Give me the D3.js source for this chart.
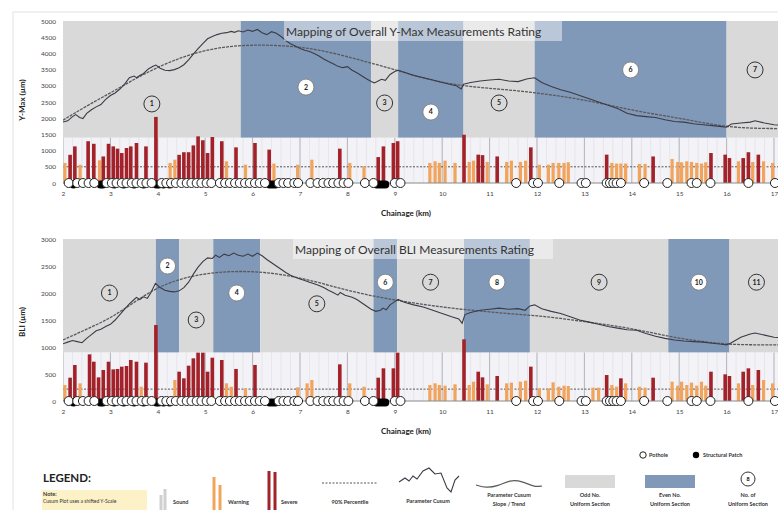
<!DOCTYPE html>
<html>
<head>
<meta charset="utf-8">
<script src="https://cdn.jsdelivr.net/npm/d3@7"></script>
<style>
  body { margin: 0; background: #fff; }
  text { font-family: Lato, "Open Sans", sans-serif; }
</style>
</head>
<body>
<svg id="chart" width="778" height="510"></svg>
<script>
// chainage ticks (km)
const kmTicks = [2, 3, 4, 5, 6, 7, 8, 9, 10, 11, 12, 13, 14, 15, 16, 17];

// uniform section boundaries (km)
const ymaxBreaks = [2, 5.75, 8.5, 9.07, 10.45, 11.95, 16.0, 17.2];
const bliBreaks = [2, 3.96, 4.45, 5.17, 6.16, 8.55, 9.05, 10.46, 11.85, 14.77, 16.06, 17.2];
// level (µm) at which each section number sits
const ymaxLabelLevel = [2440, 2960, 2470, 2190, 2470, 3490, 3490];
const bliLabelLevel = [2000, 2500, 1500, 2000, 1800, 2200, 2200, 2200, 2200, 2200, 2200];

// parameter cusum [km, µm]
const ymaxCusum = [[2.0,1880],[2.1,1920],[2.2,2050],[2.27,2110],[2.35,2020],[2.42,1990],[2.5,2150],[2.6,2260],[2.7,2350],[2.8,2420],[2.9,2580],[3.0,2700],[3.1,2780],[3.2,2900],[3.3,3050],[3.4,3250],[3.5,3300],[3.55,3250],[3.62,3320],[3.7,3380],[3.8,3520],[3.9,3600],[3.96,3640],[4.05,3540],[4.15,3480],[4.25,3470],[4.35,3500],[4.45,3560],[4.55,3650],[4.65,3800],[4.75,3980],[4.85,4150],[4.95,4300],[5.05,4450],[5.15,4520],[5.25,4580],[5.35,4620],[5.45,4640],[5.55,4680],[5.62,4650],[5.7,4700],[5.8,4660],[5.9,4720],[6.0,4680],[6.1,4740],[6.2,4640],[6.3,4580],[6.4,4670],[6.5,4620],[6.6,4520],[6.7,4400],[6.8,4300],[6.9,4230],[7.0,4150],[7.1,4100],[7.2,4060],[7.3,4000],[7.4,3920],[7.5,3830],[7.6,3750],[7.7,3680],[7.8,3600],[7.9,3560],[8.0,3590],[8.1,3480],[8.2,3400],[8.3,3310],[8.4,3220],[8.5,3130],[8.57,3090],[8.65,3150],[8.72,3200],[8.8,3170],[8.9,3350],[9.0,3440],[9.07,3480],[9.2,3420],[9.4,3320],[9.6,3250],[9.8,3180],[10.0,3100],[10.2,3030],[10.3,3000],[10.4,2900],[10.45,3050],[10.6,3100],[10.8,3150],[11.0,3180],[11.2,3200],[11.4,3150],[11.6,3130],[11.8,3220],[11.95,3250],[12.1,3100],[12.3,2980],[12.5,2880],[12.7,2800],[12.9,2700],[13.1,2600],[13.3,2500],[13.5,2400],[13.7,2300],[13.9,2150],[14.1,2080],[14.3,2050],[14.5,2020],[14.7,1950],[14.9,1900],[15.1,1880],[15.3,1830],[15.5,1800],[15.7,1770],[15.9,1740],[16.0,1720],[16.1,1820],[16.3,1850],[16.5,1880],[16.6,1920],[16.8,1850],[17.0,1800],[17.2,1780]];
const ymaxTrend = [[2,1940],[2.5,2380],[3,2780],[3.5,3200],[4,3580],[4.5,3880],[5,4100],[5.5,4220],[6,4260],[6.5,4250],[7,4200],[7.5,4080],[8,3900],[8.5,3700],[9,3500],[9.5,3280],[10,3100],[10.5,2990],[11,2920],[11.5,2860],[12,2780],[12.5,2680],[13,2560],[13.5,2410],[14,2250],[14.5,2120],[15,2000],[15.5,1860],[16,1740],[16.5,1690],[17,1680],[17.2,1680]];

const bliCusum = [[2.0,1060],[2.1,1090],[2.2,1120],[2.3,1100],[2.4,1080],[2.5,1160],[2.6,1230],[2.7,1300],[2.8,1330],[2.9,1380],[3.0,1420],[3.1,1500],[3.2,1600],[3.3,1700],[3.4,1800],[3.5,1880],[3.55,1920],[3.62,1880],[3.7,1930],[3.78,1900],[3.85,2000],[3.95,2180],[4.05,2100],[4.15,2050],[4.25,2030],[4.35,2020],[4.45,2040],[4.55,2100],[4.65,2200],[4.75,2350],[4.85,2480],[4.95,2580],[5.05,2650],[5.15,2640],[5.22,2700],[5.3,2660],[5.4,2720],[5.5,2690],[5.6,2740],[5.7,2700],[5.8,2680],[5.9,2720],[6.0,2680],[6.1,2740],[6.2,2690],[6.3,2620],[6.4,2560],[6.5,2500],[6.6,2440],[6.7,2380],[6.8,2330],[6.9,2290],[7.0,2260],[7.1,2230],[7.2,2200],[7.3,2170],[7.4,2140],[7.5,2100],[7.6,2050],[7.7,2010],[7.8,1960],[7.85,2010],[7.95,1960],[8.1,1920],[8.2,1880],[8.3,1820],[8.4,1760],[8.5,1700],[8.6,1660],[8.7,1680],[8.75,1720],[8.82,1690],[8.9,1780],[9.0,1840],[9.07,1880],[9.2,1830],[9.4,1780],[9.6,1740],[9.8,1680],[10.0,1620],[10.2,1560],[10.35,1520],[10.42,1440],[10.48,1600],[10.6,1640],[10.8,1680],[11.0,1700],[11.2,1720],[11.4,1700],[11.6,1710],[11.75,1680],[11.85,1760],[11.95,1780],[12.1,1710],[12.3,1660],[12.5,1620],[12.7,1560],[12.9,1500],[13.1,1460],[13.3,1420],[13.5,1380],[13.7,1350],[13.9,1320],[14.1,1310],[14.3,1250],[14.5,1200],[14.7,1160],[14.9,1130],[15.1,1110],[15.3,1100],[15.5,1090],[15.7,1070],[15.9,1050],[16.0,1040],[16.1,1080],[16.3,1180],[16.5,1240],[16.6,1260],[16.8,1220],[17.0,1180],[17.2,1170]];
const bliTrend = [[2,1130],[2.5,1330],[3,1530],[3.5,1830],[4,2110],[4.5,2270],[5,2360],[5.5,2400],[6,2400],[6.5,2360],[7,2280],[7.5,2170],[8,2050],[8.5,1950],[9,1870],[9.5,1800],[10,1740],[10.5,1690],[11,1650],[11.5,1610],[12,1580],[12.5,1530],[13,1470],[13.5,1410],[14,1340],[14.5,1250],[15,1160],[15.5,1100],[16,1050],[16.5,1040],[17,1040],[17.2,1040]];

// measurement bars [km, µm]
const ymaxSevere = [[2.15,870],[2.25,1130],[2.53,1290],[2.65,1210],[2.85,820],[2.96,1210],[3.06,1130],[3.15,1060],[3.24,925],[3.34,1080],[3.43,1130],[3.55,1235],[3.75,1130],[3.96,2040],[4.45,870],[4.55,950],[4.65,950],[4.75,1160],[4.85,1440],[4.95,1320],[5.05,925],[5.15,1420],[5.35,1290],[5.65,1100],[6.05,1235],[6.35,1030],[7.84,1060],[8.65,800],[8.76,1130],[8.97,1235],[9.06,1290],[10.46,1490],[10.76,875],[10.85,860],[11.16,820],[11.87,1100],[13.47,875],[14.45,820],[15.67,925],[15.97,875],[16.06,770],[16.35,770],[16.46,950],[16.67,875]];
const ymaxWarning = [[2.04,620],[2.36,565],[2.77,700],[4.26,620],[4.36,720],[5.45,670],[5.85,565],[6.45,600],[6.95,565],[7.25,720],[8.05,620],[8.35,515],[9.74,620],[9.85,670],[9.94,620],[10.06,690],[10.27,620],[10.57,650],[10.66,690],[10.95,650],[11.36,650],[11.46,690],[11.65,650],[11.76,690],[12.05,565],[12.24,565],[12.34,620],[12.46,620],[12.57,620],[12.66,640],[13.58,620],[13.68,600],[13.77,600],[13.87,600],[14.16,590],[14.28,590],[14.85,740],[14.97,650],[15.05,640],[15.16,670],[15.26,650],[15.37,620],[15.47,600],[15.56,640],[16.25,670],[16.55,650],[16.78,670],[16.97,620]];
const bliSevere = [[2.15,432],[2.25,667],[2.56,864],[2.65,728],[2.75,438],[2.85,574],[2.96,728],[3.06,586],[3.15,593],[3.24,636],[3.34,648],[3.43,759],[3.55,728],[3.75,710],[3.96,1407],[4.45,543],[4.55,420],[4.65,654],[4.75,790],[4.85,895],[4.95,895],[5.05,543],[5.15,802],[5.35,759],[5.65,593],[6.05,667],[7.84,679],[8.65,432],[8.76,605],[8.97,605],[9.06,895],[10.46,1142],[10.76,543],[10.85,438],[11.16,463],[11.87,636],[13.47,481],[13.77,420],[14.45,432],[15.67,543],[15.97,494],[16.06,463],[16.35,543],[16.46,605],[16.67,574]];
const bliWarning = [[2.04,296],[2.36,327],[3.65,265],[4.36,389],[5.45,327],[5.55,265],[5.85,235],[6.95,253],[7.15,327],[7.25,389],[8.05,327],[8.35,265],[9.74,296],[9.85,327],[9.94,296],[10.06,284],[10.27,309],[10.57,296],[10.66,358],[10.95,309],[11.36,327],[11.46,340],[11.65,358],[11.76,377],[12.05,235],[12.24,235],[12.34,346],[12.46,265],[12.57,284],[12.66,278],[13.18,247],[13.3,247],[13.58,296],[13.68,265],[13.87,327],[14.16,265],[14.28,247],[14.85,358],[14.97,284],[15.05,358],[15.16,296],[15.26,340],[15.37,284],[15.47,358],[15.56,284],[16.25,327],[16.55,296],[16.78,389],[16.97,327]];

// 90th percentile (µm)
const ymaxP90 = 500;
const bliP90 = 220;

// defects along the road (km)
const potholes = [2.12,2.3,2.42,2.54,2.66,2.92,3.03,3.13,3.24,3.34,3.45,3.55,3.66,3.76,3.87,4.08,4.18,4.28,4.38,4.5,4.61,4.71,4.82,4.92,5.03,5.13,5.31,5.42,5.52,5.63,5.73,5.84,5.94,6.05,6.15,6.26,6.55,6.65,6.75,6.88,6.96,7.22,7.37,7.49,7.6,7.7,7.81,7.92,8.02,8.37,8.55,9.0,9.12,11.56,11.92,12.02,12.47,12.94,13.03,13.47,13.54,13.61,13.68,13.77,14.26,14.75,15.26,15.37,15.66,16.46,17.02];
const patches = [2.22,2.79,2.84,3.08,3.28,3.5,3.7,3.97,4.02,4.12,4.25,6.36,6.42,6.48,8.62,8.68,8.74,8.8];

const svg = d3.select("#chart");
const W = 778;
const x = d3.scaleLinear().domain([2, 17]).range([63, 774]);

const C = {
    odd: "#d9d9d9", even: "#8199b8", severe: "#a3222a", warning: "#f2a45c",
    sound: "#d0d0d0", line: "#3b3b47", trend: "#5a5a5a"
};

// outer frame
svg.append("path").attr("d", `M13,510 V12 H${W}`)
    .attr("fill", "none").attr("stroke", "#e2e2e2");

function drawPanel(p) {
    const y = d3.scaleLinear().domain([0, p.yMax]).range([p.y0, p.y1]);
    const g = svg.append("g");
    const clipId = "clip" + p.id;
    g.append("clipPath").attr("id", clipId).append("rect")
        .attr("x", x(2)).attr("y", p.y1 - 2).attr("width", W - x(2)).attr("height", p.y0 - p.y1 + 12);
    const plot = g.append("g").attr("clip-path", `url(#${clipId})`);

    // bar area background and grid
    plot.append("rect").attr("x", x(2)).attr("y", y(p.band))
        .attr("width", W - x(2)).attr("height", y(0) - y(p.band)).attr("fill", "#f3f3f7");
    plot.selectAll(".minor").data(d3.range(2, 17.3, 0.2)).enter().append("line")
        .attr("x1", d => x(d)).attr("x2", d => x(d))
        .attr("y1", y(p.band)).attr("y2", y(0))
        .attr("stroke", "#dcdce3").attr("stroke-width", 0.6);
    plot.selectAll(".major").data(kmTicks).enter().append("line")
        .attr("x1", d => x(d)).attr("x2", d => x(d))
        .attr("y1", y(p.band)).attr("y2", y(0))
        .attr("stroke", "#b5b5bd").attr("stroke-width", 1);

    // uniform sections
    const secs = d3.pairs(p.breaks).map((b, i) => ({ n: i + 1, from: b[0], to: b[1], level: p.levels[i] }));
    plot.selectAll(".sec").data(secs).enter().append("rect")
        .attr("x", d => x(d.from)).attr("y", y(p.yMax))
        .attr("width", d => x(d.to) - x(d.from)).attr("height", y(p.band) - y(p.yMax))
        .attr("fill", d => d.n % 2 ? C.odd : C.even);

    // 90th percentile
    plot.append("line").attr("x1", x(2)).attr("x2", W)
        .attr("y1", y(p.p90)).attr("y2", y(p.p90))
        .attr("stroke", "#555").attr("stroke-width", 1).attr("stroke-dasharray", "2,1.5");

    // bars
    plot.selectAll(".warn").data(p.warning).enter().append("rect")
        .attr("x", d => x(d[0]) - 1.6).attr("width", 3.2)
        .attr("y", d => y(d[1])).attr("height", d => y(0) - y(d[1]))
        .attr("fill", C.warning);
    plot.selectAll(".sev").data(p.severe).enter().append("rect")
        .attr("x", d => x(d[0]) - 1.8).attr("width", 3.6)
        .attr("y", d => y(d[1])).attr("height", d => y(0) - y(d[1]))
        .attr("fill", C.severe);

    // baseline
    plot.append("line").attr("x1", x(2)).attr("x2", W)
        .attr("y1", y(0)).attr("y2", y(0)).attr("stroke", "#8a8a8a");

    // cusum and trend
    plot.append("path").datum(p.trend)
        .attr("d", d3.line().x(d => x(d[0])).y(d => y(d[1])).curve(d3.curveBasis))
        .attr("fill", "none").attr("stroke", C.trend).attr("stroke-width", 1.3)
        .attr("stroke-dasharray", "3,1");
    plot.append("path").datum(p.cusum)
        .attr("d", d3.line().x(d => x(d[0])).y(d => y(d[1])))
        .attr("fill", "none").attr("stroke", C.line).attr("stroke-width", 1.1);

    // section numbers
    const lab = plot.selectAll(".lab").data(secs).enter().append("g")
        .attr("transform", d => `translate(${x((d.from + d.to) / 2)},${y(d.level)})`);
    lab.append("circle").attr("r", 8)
        .attr("fill", d => d.n % 2 ? C.odd : "#fff")
        .attr("stroke", d => d.n % 2 ? "#333" : "#777").attr("stroke-width", d => d.n % 2 ? 1 : 0.8);
    lab.append("text").attr("text-anchor", "middle").attr("dy", "0.35em")
        .attr("font-size", 7).attr("font-weight", "bold").attr("fill", "#222")
        .text(d => d.n);

    // title
    plot.append("rect").attr("x", p.titleX - 2).attr("y", y(p.yMax))
        .attr("width", p.titleW).attr("height", 20)
        .attr("fill", "#fff").attr("fill-opacity", 0.45);
    plot.append("text").attr("x", p.titleX).attr("y", y(p.yMax) + 15)
        .attr("font-size", 12).attr("fill", "#333").text(p.title);

    // defects
    plot.selectAll(".patch").data(patches).enter().append("circle")
        .attr("cx", d => x(d)).attr("cy", y(0) + 1.5).attr("r", 4).attr("fill", "#000");
    plot.selectAll(".hole").data(potholes).enter().append("circle")
        .attr("cx", d => x(d)).attr("cy", y(0)).attr("r", 4.5)
        .attr("fill", "#fff").attr("stroke", "#222").attr("stroke-width", 1);

    // axes
    const ya = g.append("g").attr("transform", `translate(${x(2) - 4},0)`)
        .call(d3.axisLeft(y).tickValues(d3.range(0, p.yMax + 1, 500))
            .tickFormat(d3.format("d")).tickSize(0).tickPadding(3));
    ya.select(".domain").remove();
    ya.selectAll("text").attr("font-size", 6.5).attr("fill", "#444").attr("font-family", "Lato, sans-serif");

    const xa = g.append("g").attr("transform", `translate(0,${y(0) + 5})`)
        .call(d3.axisBottom(x).tickValues(kmTicks).tickFormat(d3.format("d")).tickSize(0).tickPadding(3));
    xa.select(".domain").remove();
    xa.selectAll("text").attr("font-size", 6.5).attr("fill", "#444").attr("font-family", "Lato, sans-serif");

    g.append("text").attr("x", 406).attr("y", y(0) + 33).attr("text-anchor", "middle")
        .attr("font-size", 8).attr("font-weight", "bold").attr("fill", "#222").text("Chainage (km)");
    g.append("text").attr("transform", `translate(25,${p.titleY}) rotate(-90)`)
        .attr("text-anchor", "middle").attr("font-size", 8).attr("font-weight", "bold")
        .attr("fill", "#222").text(p.yTitle);
}

drawPanel({
    id: "ymax", yMax: 5000, y0: 183, y1: 21, band: 1400, breaks: ymaxBreaks, levels: ymaxLabelLevel,
    cusum: ymaxCusum, trend: ymaxTrend, severe: ymaxSevere, warning: ymaxWarning, p90: ymaxP90,
    title: "Mapping of Overall Y-Max Measurements Rating", titleX: 286, titleW: 278,
    yTitle: "Y-Max (µm)", titleY: 100
});
drawPanel({
    id: "bli", yMax: 3000, y0: 401, y1: 239, band: 900, breaks: bliBreaks, levels: bliLabelLevel,
    cusum: bliCusum, trend: bliTrend, severe: bliSevere, warning: bliWarning, p90: bliP90,
    title: "Mapping of Overall BLI Measurements Rating", titleX: 295, titleW: 260,
    yTitle: "BLI (µm)", titleY: 322
});

// legend
const lg = svg.append("g");
const small = (t, xx, yy, anchor) => lg.append("text").attr("x", xx).attr("y", yy)
    .attr("font-size", 5.5).attr("font-weight", "bold").attr("fill", "#333")
    .attr("text-anchor", anchor || "start").text(t);

lg.append("text").attr("x", 43).attr("y", 482).attr("font-size", 11.5)
    .attr("font-weight", "bold").attr("fill", "#222").text("LEGEND:");
lg.append("rect").attr("x", 42).attr("y", 490).attr("width", 105).attr("height", 20).attr("fill", "#fdf1c8");
small("Note:", 43, 496);
lg.append("text").attr("x", 43).attr("y", 503).attr("font-size", 5).attr("fill", "#333")
    .text("Cusum Plot uses a shifted Y-Scale");

const legBars = [
    { c: C.sound, xs: [161, 165], tops: [495, 489], label: "Sound", lx: 173 },
    { c: C.warning, xs: [214, 220], tops: [477, 485], label: "Warning", lx: 228 },
    { c: C.severe, xs: [269, 275], tops: [471, 472], label: "Severe", lx: 281 }
];
legBars.forEach(b => {
    b.xs.forEach((bx, i) => lg.append("rect").attr("x", bx - 1.5).attr("y", b.tops[i])
        .attr("width", 3).attr("height", 510 - b.tops[i]).attr("fill", b.c));
    small(b.label, b.lx, 504);
});

lg.append("line").attr("x1", 322).attr("x2", 378).attr("y1", 483).attr("y2", 483)
    .attr("stroke", "#555").attr("stroke-dasharray", "2,1.5");
small("90% Percentile", 350, 504, "middle");

const wiggle = [[0,14],[6,10],[10,13],[14,8],[18,11],[24,3],[30,0],[36,6],[42,5],[48,20],[52,24],[56,12],[60,8]];
lg.append("path").datum(wiggle)
    .attr("d", d3.line().x(d => 399 + d[0]).y(d => 468 + d[1]))
    .attr("fill", "none").attr("stroke", C.line).attr("stroke-width", 1.1);
small("Parameter Cusum", 428, 503, "middle");

const wave = [[0,6],[10,9],[22,7],[34,1],[46,2],[58,8],[66,7]];
lg.append("path").datum(wave)
    .attr("d", d3.line().x(d => 476 + d[0]).y(d => 479 + d[1]).curve(d3.curveBasis))
    .attr("fill", "none").attr("stroke", C.trend).attr("stroke-width", 1.2);
small("Parameter Cusum", 509, 497, "middle");
small("Slope / Trend", 509, 506, "middle");

lg.append("rect").attr("x", 565).attr("y", 475).attr("width", 50).attr("height", 13).attr("fill", C.odd);
small("Odd No.", 590, 497, "middle");
small("Uniform Section", 590, 506, "middle");
lg.append("rect").attr("x", 645).attr("y", 475).attr("width", 50).attr("height", 13).attr("fill", C.even);
small("Even No.", 670, 497, "middle");
small("Uniform Section", 670, 506, "middle");

lg.append("circle").attr("cx", 748).attr("cy", 479).attr("r", 7)
    .attr("fill", "#fff").attr("stroke", "#333");
lg.append("text").attr("x", 748).attr("y", 481).attr("text-anchor", "middle")
    .attr("font-size", 5.5).attr("font-weight", "bold").text("8");
small("No. of", 748, 497, "middle");
small("Uniform Section", 748, 506, "middle");

lg.append("circle").attr("cx", 643).attr("cy", 455).attr("r", 3.2)
    .attr("fill", "#fff").attr("stroke", "#222");
small("Pothole", 649, 457);
lg.append("circle").attr("cx", 696).attr("cy", 455).attr("r", 3.2).attr("fill", "#000");
small("Structural Patch", 703, 457);
</script>
</body>
</html>
